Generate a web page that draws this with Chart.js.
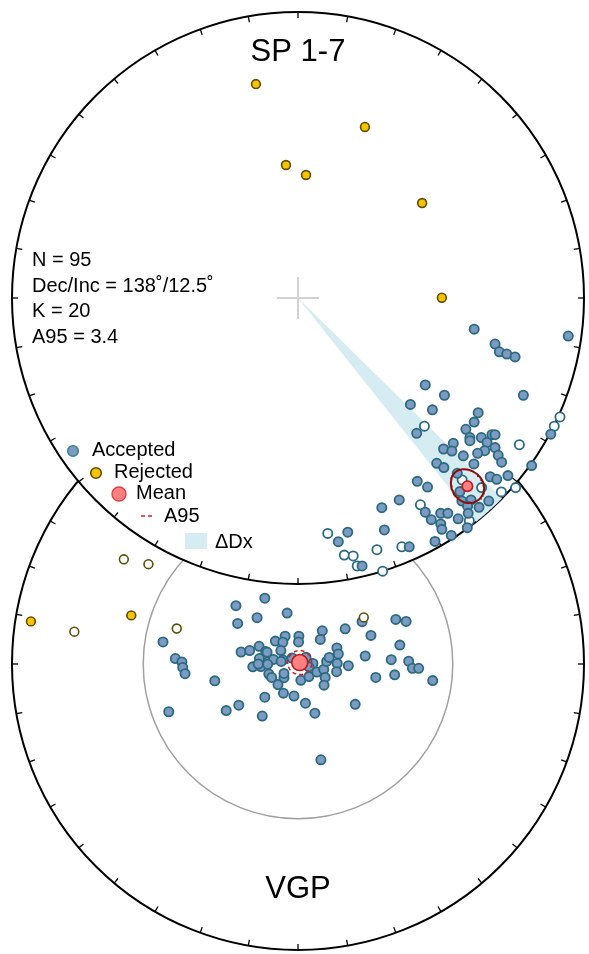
<!DOCTYPE html>
<html>
<head>
<meta charset="utf-8">
<script src="https://cdn.jsdelivr.net/npm/chart.js@4.4.1/dist/chart.umd.min.js"></script>
<style>
  html, body { margin: 0; padding: 0; background: #fff; }
  canvas { display: block; }
</style>
</head>
<body>
<canvas id="net" width="589" height="954"></canvas>
<script>
// ---- Site directions, equal-area net coordinates [east, north], unit = primitive circle ----
// Lower hemisphere (positive inclination) – filled symbols
const dirLower = [
  [0.616,-0.109],[0.945,-0.133],[0.689,-0.161],[0.704,-0.188],[0.730,-0.196],[0.759,-0.206],
  [0.445,-0.304],[0.512,-0.340],[0.788,-0.340],[0.393,-0.372],[0.470,-0.391],[0.630,-0.401],
  [0.616,-0.434],[0.587,-0.459],[0.415,-0.473],[0.601,-0.488],[0.641,-0.488],[0.678,-0.478],
  [0.689,-0.478],[0.601,-0.499],[0.661,-0.505],[0.884,-0.476],[0.543,-0.508],[0.509,-0.528],
  [0.538,-0.535],[0.689,-0.523],[0.653,-0.534],[0.628,-0.543],[0.700,-0.550],[0.578,-0.552],
  [0.712,-0.574],[0.615,-0.580],[0.485,-0.578],[0.510,-0.593],[0.817,-0.586],[0.557,-0.613],
  [0.734,-0.621],[0.672,-0.625],[0.695,-0.634],[0.417,-0.641],[0.453,-0.661],[0.566,-0.677],
  [0.354,-0.706],[0.293,-0.733],[0.573,-0.710],[0.605,-0.706],[0.633,-0.732],[0.667,-0.710],
  [0.593,-0.728],[0.445,-0.749],[0.499,-0.753],[0.524,-0.753],[0.466,-0.775],[0.560,-0.772],
  [0.595,-0.753],[0.499,-0.790],[0.503,-0.809],[0.592,-0.803],[0.536,-0.830],[0.479,-0.851],
  [0.302,-0.811],[0.389,-0.870],[0.174,-0.819],[0.141,-0.852],[0.224,-0.937]
];
// Upper hemisphere (negative inclination) – open symbols
const dirUpper = [
  [0.442,-0.448],[0.774,-0.513],[0.916,-0.416],[0.896,-0.448],[0.574,-0.636],[0.642,-0.663],
  [0.711,-0.678],[0.761,-0.663],[0.428,-0.723],[0.599,-0.779],[0.363,-0.870],[0.104,-0.823],
  [0.162,-0.899],[0.193,-0.902],[0.207,-0.937],[0.276,-0.880],[0.296,-0.955]
];
// Rejected directions
const dirRejected = [
  [-0.147,0.748],[0.234,0.598],[-0.042,0.465],[0.028,0.430],[0.434,0.332],[0.503,0.001]
];

// ---- Virtual geomagnetic poles, equal-area polar net [east, north] ----
const vgpAccepted = [
  [-0.116,0.230],[-0.217,0.204],[-0.038,0.178],[-0.143,0.162],[-0.211,0.142],[0.224,0.148],
  [0.342,0.156],[0.378,0.149],[0.085,0.116],[0.165,0.123],[-0.045,0.097],[0.003,0.097],
  [-0.079,0.080],[-0.053,0.076],[0.002,0.077],[0.078,0.086],[0.255,0.100],[-0.472,0.077],
  [0.356,0.066],[-0.136,0.062],[-0.199,0.042],[-0.169,0.047],[-0.113,0.044],[-0.060,0.047],
  [0.136,0.056],[0.141,0.035],[0.235,0.028],[-0.429,0.019],[-0.406,0.007],[-0.403,-0.012],
  [-0.395,-0.034],[-0.135,0.019],[-0.104,0.008],[-0.086,0.016],[-0.053,0.014],[-0.158,-0.010],
  [-0.130,-0.009],[-0.102,-0.035],[-0.092,-0.047],[-0.049,-0.048],[-0.049,-0.033],[0.010,-0.057],
  [0.038,-0.044],[0.066,-0.028],[0.052,0.002],[0.090,-0.019],[0.095,-0.047],[0.100,0.009],
  [0.109,0.023],[0.137,0.002],[0.135,-0.027],[0.176,-0.006],[0.326,0.015],[0.387,0.010],
  [0.400,-0.015],[0.422,-0.015],[0.338,-0.038],[0.272,-0.047],[0.471,-0.058],[-0.291,-0.059],
  [-0.070,-0.072],[0.091,-0.074],[-0.051,-0.102],[-0.014,-0.112],[-0.116,-0.116],[0.026,-0.137],
  [0.200,-0.141],[-0.452,-0.167],[-0.251,-0.163],[-0.207,-0.144],[-0.125,-0.182],[0.059,-0.172],
  [0.080,-0.335],[-0.108,0.041],[-0.139,0.000],[-0.106,-0.001],[-0.059,0.009],[-0.021,0.021],
  [0.028,0.024],[0.038,-0.010]
];
const vgpRejectedFilled = [[-0.934,0.149],[-0.583,0.170]];
const vgpRejectedOpen = [[-0.609,0.366],[-0.523,0.349],[-0.782,0.113],[-0.424,0.124],[0.230,0.163]];
const vgpMean = [0.006, 0.005];

// ---- Fisher statistics ----
const N_SITES = 95;
const MEAN_DEC = 138;
const MEAN_INC = 12.5;
const KAPPA = 20;
const A95 = 3.4;

const TITLE_TOP = 'SP 1-7';
const TITLE_BOTTOM = 'VGP';
const legendLabels = ['Accepted', 'Rejected', 'Mean', 'A95', '\u0394Dx'];

// ---- Layout ----
const W = 589, H = 954;
const R = 286;               // primitive radius, px
const TOP_CX = 298, TOP_CY = 298, VGP_CY = 664;
const xMin = -TOP_CX / R, xMax = (W - TOP_CX) / R;
const yMax = TOP_CY / R, yMin = yMax - H / R;
const VGP_DY = -(VGP_CY - TOP_CY) / R;   // vertical offset of the VGP net

const COL = {
  accFill: '#7b9bc2', accEdge: '#2b6a80',
  rejFill: '#f6c400', rejEdge: '#5f4c05',
  meanFill: '#ff8080', meanEdge: '#c0141c',
  cone: '#8e0c0c', ring: '#cc2020',
  band: '#d5ecf3', cross: '#d2d2d2', lat: '#a0a0a0'
};
const FONT = '"Liberation Sans", Arial, Helvetica, sans-serif';

const rad = d => d * Math.PI / 180;
const deg = r => r * 180 / Math.PI;

// Lambert equal-area projection of a direction (declination, inclination)
function project(dec, inc) {
  const r = Math.sqrt(1 - Math.abs(Math.sin(rad(inc))));
  return { x: r * Math.sin(rad(dec)), y: r * Math.cos(rad(dec)) };
}

// Declination spread equivalent to the pole A95 (Deenen et al. 2011)
function deltaDx(inc, a95) {
  return deg(Math.asin(Math.sin(rad(a95)) / Math.cos(rad(inc))));
}
// Inclination spread equivalent to the pole A95
function deltaIx(inc, a95) {
  const lam = Math.atan(Math.tan(rad(inc)) / 2);   // palaeolatitude
  return 2 * a95 / (1 + 3 * Math.sin(lam) ** 2);
}

// Pole A95 transferred to direction space, projected
function conePath(dec, inc, a95, steps) {
  const dD = deltaDx(inc, a95), dI = deltaIx(inc, a95);
  const out = [];
  for (let k = 0; k <= steps; k++) {
    const t = 2 * Math.PI * k / steps;
    out.push(project(dec + dD * Math.sin(t), inc + dI * Math.cos(t)));
  }
  return out;
}

// Circle of radius a95 around the mean pole on the polar equal-area net
function poleRing(center, a95, steps) {
  const rr = Math.SQRT2 * Math.sin(rad(a95) / 2);
  const out = [];
  for (let k = 0; k <= steps; k++) {
    const t = 2 * Math.PI * k / steps;
    out.push({ x: center[0] + rr * Math.cos(t), y: center[1] + rr * Math.sin(t) + VGP_DY });
  }
  return out;
}

const toTop = arr => arr.map(p => ({ x: p[0], y: p[1] }));
const toVgp = arr => arr.map(p => ({ x: p[0], y: p[1] + VGP_DY }));
const meanPt = project(MEAN_DEC, MEAN_INC);

function pts(data, fill, edge, radius, order, bw) {
  return {
    type: 'scatter', data, order, clip: false,
    pointRadius: radius, pointHoverRadius: radius,
    pointBackgroundColor: fill, pointBorderColor: edge, pointBorderWidth: bw || 1.8,
    showLine: false
  };
}
function curve(data, color, width, dash, order) {
  return {
    type: 'scatter', data, order, clip: false, showLine: true, fill: false,
    borderColor: color, borderWidth: width, borderDash: dash, pointRadius: 0, tension: 0
  };
}

// Net outlines, ticks, latitude circle, ΔDx band and centre cross
const netBackground = {
  id: 'netBackground',
  beforeDatasetsDraw(chart) {
    const ctx = chart.ctx, sx = chart.scales.x, sy = chart.scales.y;
    const px = v => sx.getPixelForValue(v), py = v => sy.getPixelForValue(v);
    const unit = px(1) - px(0);

    function net(cy, fillWhite) {
      const X = px(0), Y = py(cy);
      ctx.beginPath();
      ctx.arc(X, Y, unit, 0, Math.PI * 2);
      if (fillWhite) { ctx.fillStyle = '#fff'; ctx.fill(); }
      ctx.lineWidth = 2; ctx.strokeStyle = '#000'; ctx.stroke();
      ctx.lineWidth = 1.3;
      for (let az = 0; az < 360; az += 10) {
        const s = Math.sin(rad(az)), c = Math.cos(rad(az));
        ctx.beginPath();
        ctx.moveTo(px(s), py(cy + c));
        ctx.lineTo(px(s * (1 - 6 / R)), py(cy + c * (1 - 6 / R)));
        ctx.stroke();
      }
    }

    ctx.save();
    // VGP net with 45° colatitude circle
    net(VGP_DY, false);
    ctx.beginPath();
    ctx.arc(px(0), py(VGP_DY), unit * Math.SQRT2 * Math.sin(rad(45) / 2), 0, Math.PI * 2);
    ctx.lineWidth = 1.5; ctx.strokeStyle = COL.lat; ctx.stroke();

    // Direction net drawn over it
    net(0, true);

    // ΔDx band along the mean declination
    const dDx = deltaDx(MEAN_INC, A95);
    ctx.beginPath();
    ctx.moveTo(px(0), py(0));
    for (let k = 0; k <= 20; k++) {
      const d = MEAN_DEC - dDx + 2 * dDx * k / 20;
      ctx.lineTo(px(Math.sin(rad(d))), py(Math.cos(rad(d))));
    }
    ctx.closePath();
    ctx.fillStyle = COL.band; ctx.fill();

    // centre cross
    const a = 21 / R;
    ctx.beginPath();
    ctx.moveTo(px(-a), py(0)); ctx.lineTo(px(a), py(0));
    ctx.moveTo(px(0), py(-a)); ctx.lineTo(px(0), py(a));
    ctx.lineWidth = 2; ctx.strokeStyle = COL.cross; ctx.stroke();
    ctx.restore();
  },
  afterDatasetsDraw(chart) {
    const ctx = chart.ctx;
    ctx.save();
    ctx.fillStyle = '#000';
    ctx.textBaseline = 'alphabetic';

    // titles
    ctx.font = '31px ' + FONT;
    ctx.textAlign = 'center';
    ctx.fillText(TITLE_TOP, 298, 61);
    ctx.fillText(TITLE_BOTTOM, 298, 898);

    // statistics
    ctx.font = '20px ' + FONT;
    ctx.textAlign = 'left';
    ctx.fillText('N = ' + N_SITES, 32, 266);
    ctx.fillText('Dec/Inc = ' + MEAN_DEC + '\u02DA/' + MEAN_INC + '\u02DA', 32, 292);
    ctx.fillText('K = ' + KAPPA, 32, 317);
    ctx.fillText('A95 = ' + A95, 32, 343);

    // legend
    function dot(x, y, r, fill, edge, w) {
      ctx.beginPath(); ctx.arc(x, y, r, 0, Math.PI * 2);
      ctx.fillStyle = fill; ctx.fill();
      ctx.lineWidth = w; ctx.strokeStyle = edge; ctx.stroke();
    }
    dot(73, 451, 5.3, COL.accFill, '#3d7f96', 1.6);
    dot(96, 473, 5.3, COL.rejFill, COL.rejEdge, 1.6);
    dot(119, 494, 7, COL.meanFill, '#e04040', 1.4);
    ctx.beginPath();
    ctx.setLineDash([4, 3]);
    ctx.moveTo(141, 516); ctx.lineTo(155, 516);
    ctx.lineWidth = 1.5; ctx.strokeStyle = COL.ring; ctx.stroke();
    ctx.setLineDash([]);
    ctx.fillStyle = COL.band;
    ctx.fillRect(185, 533, 22, 16);

    ctx.fillStyle = '#000';
    ctx.font = '20px ' + FONT;
    ctx.fillText(legendLabels[0], 92, 456);
    ctx.fillText(legendLabels[1], 114, 478);
    ctx.fillText(legendLabels[2], 136, 499);
    ctx.fillText(legendLabels[3], 164, 522);
    ctx.fillText(legendLabels[4], 215, 548);
    ctx.restore();
  }
};

new Chart(document.getElementById('net'), {
  type: 'scatter',
  data: {
    datasets: [
      // VGP net
      pts(toVgp(vgpAccepted), COL.accFill, COL.accEdge, 4.6, 20),
      pts(toVgp(vgpRejectedFilled), COL.rejFill, COL.rejEdge, 4.4, 19, 1.6),
      pts(toVgp(vgpRejectedOpen), '#fff', COL.rejEdge, 4.4, 18, 1.6),
      curve(poleRing(vgpMean, A95, 72), COL.ring, 1.5, [4, 3], 3),
      pts(toVgp([vgpMean]), COL.meanFill, COL.meanEdge, 8, 2, 1.6),
      // direction net
      pts(toTop(dirUpper), '#fff', COL.accEdge, 4.6, 16),
      pts(toTop(dirLower), COL.accFill, COL.accEdge, 4.6, 15),
      pts(toTop(dirRejected), COL.rejFill, COL.rejEdge, 4.4, 14, 1.6),
      curve(conePath(MEAN_DEC, MEAN_INC, A95, 90), COL.cone, 2, [], 4),
      pts([meanPt], COL.meanFill, COL.meanEdge, 5.2, 1, 1.6)
    ]
  },
  options: {
    responsive: false,
    devicePixelRatio: 1,
    animation: false,
    events: [],
    layout: { padding: 0, autoPadding: false },
    scales: {
      x: { type: 'linear', min: xMin, max: xMax, bounds: 'data', display: false },
      y: { type: 'linear', min: yMin, max: yMax, bounds: 'data', display: false }
    },
    plugins: { legend: { display: false }, tooltip: { enabled: false }, title: { display: false } }
  },
  plugins: [netBackground]
});
</script>
</body>
</html>
